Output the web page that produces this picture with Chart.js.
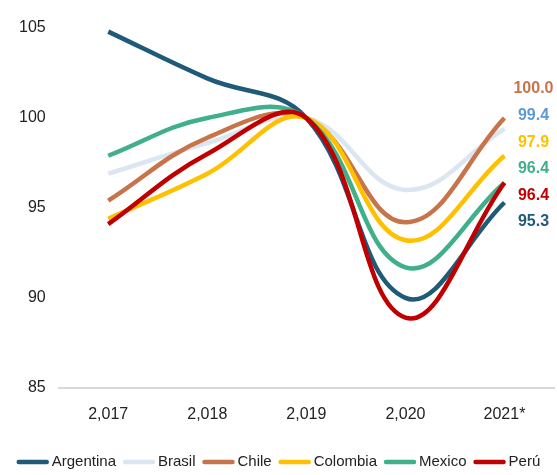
<!DOCTYPE html>
<html>
<head>
<meta charset="utf-8">
<script src="https://cdn.jsdelivr.net/npm/chart.js@4/dist/chart.umd.min.js"></script>
<style>
  html, body { margin: 0; padding: 0; background: #fff; }
  #wrap { width: 557px; height: 475px; }
</style>
</head>
<body>
<div id="wrap"><canvas id="chart"></canvas></div>
<script>
const years = ['2,017', '2,018', '2,019', '2,020', '2021*'];
const argentina = [104.8, 102.2, 100.0, 90.0, 95.3];
const brasil    = [96.9, 98.6, 100.0, 96.0, 99.4];
const chile     = [95.4, 98.9, 100.0, 94.2, 100.0];
const colombia  = [94.4, 96.9, 100.0, 93.2, 97.9];
const mexico    = [97.9, 100.0, 100.0, 91.7, 96.4];
const peru      = [94.1, 98.0, 100.0, 88.9, 96.4];

const names   = ['Argentina', 'Brasil', 'Chile', 'Colombia', 'Mexico', 'Perú'];
const series  = [argentina, brasil, chile, colombia, mexico, peru];
const colors  = ['#1f5a78', '#dce6f2', '#c8744a', '#ffc000', '#3fb08a', '#c00000'];
const labelColors = ['#1f5a78', '#5b9bd5', '#c8744a', '#ffc000', '#3fb08a', '#c00000'];
// order of end labels, top to bottom
const labelOrder = [2, 1, 3, 4, 5, 0];

const FONT = "'Liberation Sans', Arial, sans-serif";

// value labels stacked at the right end of the lines
const endLabels = {
    id: 'endLabels',
    afterDatasetsDraw(chart) {
        const ctx = chart.ctx;
        const x = chart.scales.x.getPixelForValue(years.length - 1) + 29;
        const top = chart.scales.y.getPixelForValue(chile[chile.length - 1]) - 29;
        const step = 26.6;
        ctx.save();
        ctx.font = 'bold 16px ' + FONT;
        ctx.textAlign = 'center';
        ctx.textBaseline = 'middle';
        labelOrder.forEach(function (idx, k) {
            const v = series[idx][series[idx].length - 1];
            ctx.fillStyle = labelColors[idx];
            ctx.fillText(v.toFixed(1), x, top + k * step);
        });
        ctx.restore();
    }
};

// single-row legend, line sample right next to the text
const lineLegend = {
    id: 'lineLegend',
    afterDraw(chart) {
        const ctx = chart.ctx;
        const boxW = 32, gap = 3, spacing = 7;
        ctx.save();
        ctx.font = '15px ' + FONT;
        const widths = names.map(n => ctx.measureText(n).width);
        let total = widths.reduce((a, w) => a + boxW + gap + w, 0) + spacing * (names.length - 1);
        let x = (chart.width - total) / 2;
        const y = chart.height - 13;
        ctx.textBaseline = 'middle';
        ctx.lineCap = 'round';
        ctx.lineWidth = 4.5;
        names.forEach(function (n, i) {
            ctx.strokeStyle = colors[i];
            ctx.beginPath();
            ctx.moveTo(x + 2, y);
            ctx.lineTo(x + boxW - 2, y);
            ctx.stroke();
            ctx.fillStyle = '#222';
            ctx.fillText(n, x + boxW + gap, y);
            x += boxW + gap + widths[i] + spacing;
        });
        ctx.restore();
    }
};

const datasets = names.map(function (n, i) {
    return {
        label: n,
        data: series[i],
        borderColor: colors[i],
        backgroundColor: colors[i],
        borderWidth: 4.5,
        pointRadius: 0,
        tension: 0.4,
        fill: false,
        order: names.length - i
    };
});

new Chart(document.getElementById('chart'), {
    type: 'line',
    data: { labels: years, datasets: datasets },
    options: {
        responsive: true,
        maintainAspectRatio: false,
        animation: false,
        layout: { padding: { left: 14, right: 3, top: 28, bottom: 42 } },
        plugins: {
            tooltip: { enabled: false },
            legend: { display: false }
        },
        scales: {
            x: {
                offset: true,
                grid: { display: false },
                border: { display: true, color: '#d9d9d9', width: 2 },
                ticks: { color: '#222', padding: 9, font: { family: FONT, size: 16 } }
            },
            y: {
                min: 85,
                max: 105,
                grid: { display: false },
                border: { display: false },
                ticks: { stepSize: 5, color: '#222', padding: 5, font: { family: FONT, size: 16 } }
            }
        }
    },
    plugins: [endLabels, lineLegend]
});
</script>
</body>
</html>
